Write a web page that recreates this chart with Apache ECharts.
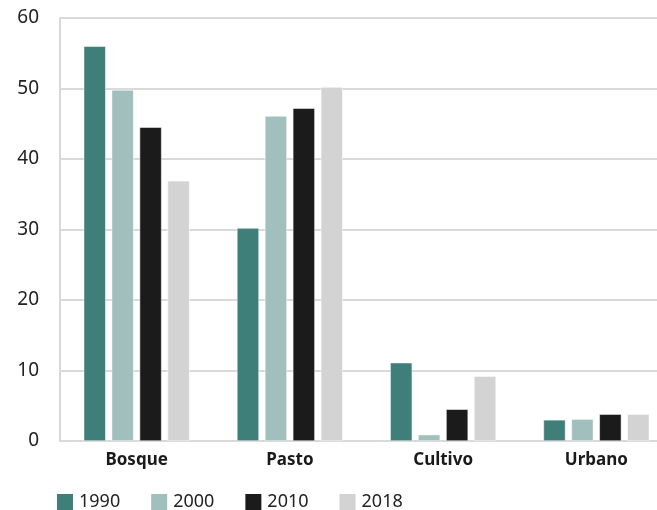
<!DOCTYPE html>
<html>
<head>
<meta charset="utf-8">
<script src="https://cdn.jsdelivr.net/npm/echarts@6/dist/echarts.min.js"></script>
<style>
  html, body { margin: 0; padding: 0; background: #fff; overflow: hidden; }
  #chart { width: 674px; height: 510px; }
</style>
</head>
<body>
<div id="chart"></div>
<script>
const categories = ['Bosque', 'Pasto', 'Cultivo', 'Urbano'];
const years = ['1990', '2000', '2010', '2018'];
const v1990 = [56.0, 30.2, 11.1, 3.0];
const v2000 = [49.8, 46.1, 0.9, 3.1];
const v2010 = [44.5, 47.2, 4.5, 3.8];
const v2018 = [36.9, 50.2, 9.2, 3.8];
const yTicks = [0, 10, 20, 30, 40, 50, 60];

const colors = ['#3e7f79', '#a1c0bd', '#1b1b1b', '#d3d3d3'];
const values = [v1990, v2000, v2010, v2018];

const chart = echarts.init(document.getElementById('chart'));

const option = {
  animation: false,
  grid: { left: 60, top: 18, width: 613, height: 423 },
  legend: {
    left: 50,
    top: 487,
    itemWidth: 18,
    itemHeight: 18,
    itemGap: 29,
    icon: 'rect',
    textStyle: { fontFamily: 'Noto Sans', fontSize: 18, color: '#222' },
    data: years
  },
  xAxis: {
    type: 'category',
    data: categories,
    axisLine: { lineStyle: { color: '#d9d9d9', width: 2 } },
    axisTick: { show: false },
    axisLabel: {
      margin: 11,
      fontFamily: 'Noto Sans',
      fontWeight: 'bold',
      fontSize: 17,
      color: '#1a1a1a'
    }
  },
  yAxis: {
    type: 'value',
    min: yTicks[0],
    max: yTicks[yTicks.length - 1],
    interval: 10,
    axisLine: { show: true, lineStyle: { color: '#d9d9d9', width: 2 } },
    axisTick: { show: false },
    splitLine: { lineStyle: { color: '#d9d9d9', width: 2 } },
    axisLabel: {
      margin: 21,
      fontFamily: 'Noto Sans',
      fontSize: 19,
      color: '#222'
    }
  },
  series: years.map((y, i) => ({
    name: y,
    type: 'bar',
    data: values[i],
    barWidth: 22,
    barGap: '27%',
    itemStyle: { color: colors[i], borderColor: '#fff', borderWidth: 0.5 }
  }))
};

chart.setOption(option);
</script>
</body>
</html>
